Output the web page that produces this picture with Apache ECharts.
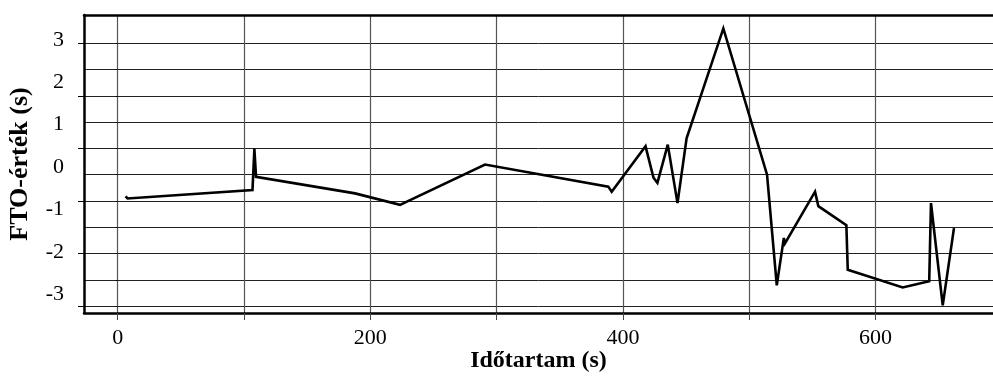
<!DOCTYPE html>
<html>
<head>
<meta charset="utf-8">
<script src="https://cdn.jsdelivr.net/npm/echarts@6/dist/echarts.min.js"></script>
<style>
  html, body { margin: 0; padding: 0; background: #fff; }
  #chart { width: 993px; height: 380px; }
</style>
</head>
<body>
<div id="chart"></div>
<script>
// Elapsed time (s) and FTO value (s) along the recorded trace
const durations = [6.2, 7.8, 106.7, 108.2, 109.5, 187.9, 223.5, 290.8, 388.4, 391.1,
  417.9, 424.2, 427.3, 435.5, 443.2, 450.4, 479.5, 514.1, 521.8, 527.4,
  528.3, 552.1, 554.7, 576.9, 578.0, 621.5, 642.5, 643.9, 653.2, 662.1];
const ftoValues = [-0.69, -0.74, -0.54, 0.43, -0.23, -0.62, -0.89, 0.06, -0.46, -0.58,
  0.49, -0.25, -0.37, 0.53, -0.85, 0.68, 3.27, -0.18, -2.79, -1.67,
  -1.80, -0.58, -0.92, -1.37, -2.42, -2.84, -2.69, -0.85, -3.26, -1.44];

// Axis ranges and ticks
const xRange = [-26.7, 693];
const xLabelValues = [0, 200, 400, 600];
const xGridValues = [0, 100, 200, 300, 400, 500, 600];
const yRange = [-3.441, 3.587];
const yLabelValues = [-3, -2, -1, 0, 1, 2, 3];
const yGridValues = [-3.276, -2.657, -2.038, -1.419, -0.800, -0.180, 0.439, 1.058, 1.677, 2.296, 2.915];
const yMajorTickValues = [-3.276, -2.038, -0.800, 0.439, 1.677, 2.915];

const serif = '"Liberation Serif", "Times New Roman", serif';
const chart = echarts.init(document.getElementById('chart'), null, { renderer: 'canvas' });

const frameLine = { show: true, onZero: false, lineStyle: { color: '#000', width: 2.5 } };

chart.setOption({
  animation: false,
  backgroundColor: '#fff',
  grid: { left: 84, right: 0, top: 15, bottom: 67, containLabel: false, outerBoundsMode: 'none' },
  xAxis: [
    {
      type: 'value', position: 'bottom', min: xRange[0], max: xRange[1],
      axisLine: frameLine,
      axisTick: { show: true, inside: false, length: 7, customValues: xGridValues,
        lineStyle: { color: '#444', width: 1 } },
      axisLabel: { customValues: xLabelValues, margin: 14, color: '#000',
        fontFamily: serif, fontSize: 22 },
      splitLine: { show: true, lineStyle: { color: '#555', width: 1.2 } },
      name: 'Időtartam (s)', nameLocation: 'middle', nameGap: 36, nameMoveOverlap: false,
      nameTextStyle: { fontFamily: serif, fontSize: 24, fontWeight: 'bold', color: '#000' }
    },
    {
      type: 'value', position: 'top', min: xRange[0], max: xRange[1],
      axisLine: frameLine,
      axisTick: { show: false }, axisLabel: { show: false }, splitLine: { show: false }
    }
  ],
  yAxis: [
    {
      type: 'value', position: 'left', min: yRange[0], max: yRange[1],
      axisLine: frameLine,
      axisTick: { show: true, inside: false, length: 6, customValues: yMajorTickValues,
        lineStyle: { color: '#000', width: 1 } },
      axisLabel: { customValues: yLabelValues, margin: 20, color: '#000',
        fontFamily: serif, fontSize: 22 },
      splitLine: { show: false },
      name: 'FTO-érték (s)', nameLocation: 'middle', nameGap: 51, nameRotate: 90,
      nameMoveOverlap: false,
      nameTextStyle: { fontFamily: serif, fontSize: 26, fontWeight: 'bold', color: '#000' }
    },
    {
      type: 'value', position: 'left', min: yRange[0], max: yRange[1],
      axisLine: { show: false },
      axisTick: { show: true, inside: false, length: 2, customValues: yGridValues,
        lineStyle: { color: '#000', width: 1 } },
      axisLabel: { show: false },
      splitLine: { show: true, lineStyle: { color: '#222', width: 1 } }
    }
  ],
  series: [
    {
      type: 'line',
      xAxisIndex: 0, yAxisIndex: 0,
      data: durations.map((t, i) => [t, ftoValues[i]]),
      showSymbol: false, symbol: 'none',
      lineStyle: { color: '#000', width: 2.6, join: 'miter', miterLimit: 4 },
      z: 5
    }
  ]
});
</script>
</body>
</html>
